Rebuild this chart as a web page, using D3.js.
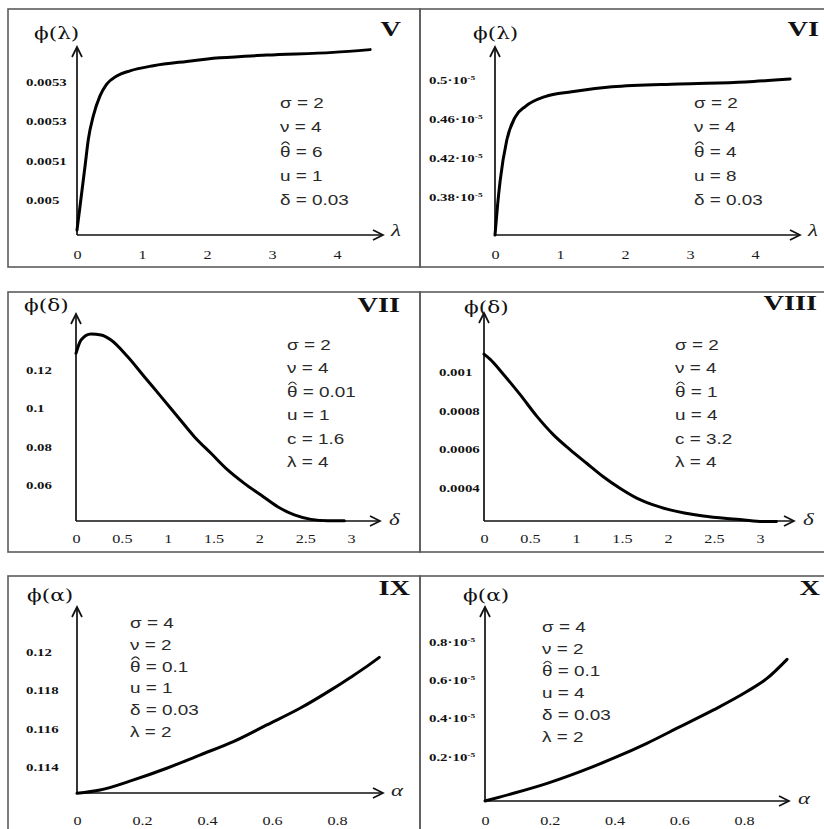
<!DOCTYPE html>
<html>
<head>
<meta charset="utf-8">
<script src="https://cdn.jsdelivr.net/npm/d3@7"></script>
<style>
  body { margin: 0; background: #fff; }
  svg { display: block; }
</style>
</head>
<body>
<svg id="chart" width="824" height="829"></svg>
<script>
// ---- data ----
// V : phi(lambda)
var lamV = [0, 0.046, 0.123, 0.174, 0.251, 0.354, 0.457, 0.611, 0.815, 1.174, 1.688, 2.2, 2.92, 3.94, 4.51];
var phiV = [0.004923, 0.004983, 0.005085, 0.005154, 0.005214, 0.005265, 0.005295, 0.005316, 0.005329, 0.005342, 0.005353, 0.005362, 0.005369, 0.005376, 0.005383];
// VI : phi(lambda), in units of 10^-5
var lamVI = [0, 0.04, 0.08, 0.18, 0.31, 0.47, 0.77, 1.18, 1.8, 2.83, 3.85, 4.54];
var phiVI = [0.341, 0.372, 0.397, 0.438, 0.462, 0.473, 0.483, 0.488, 0.493, 0.496, 0.498, 0.501];
// VII : phi(delta)
var delVII = [0, 0.055, 0.164, 0.273, 0.382, 0.564, 0.745, 0.927, 1.109, 1.29, 1.472, 1.654, 1.835, 2.017, 2.199, 2.381, 2.563, 2.745, 2.926];
var phiVII = [0.1287, 0.1357, 0.1388, 0.1383, 0.1357, 0.1269, 0.1165, 0.1061, 0.0956, 0.0852, 0.0765, 0.0678, 0.0608, 0.0547, 0.0486, 0.0443, 0.0420, 0.0413, 0.0413];
// VIII : phi(delta)
var delVIII = [0, 0.065, 0.21, 0.391, 0.573, 0.753, 0.935, 1.116, 1.297, 1.478, 1.66, 1.84, 2.022, 2.384, 2.747, 3.0, 3.18];
var phiVIII = [0.001094, 0.001068, 0.00099, 0.000885, 0.000772, 0.000676, 0.000598, 0.000527, 0.000457, 0.000397, 0.000346, 0.000311, 0.000285, 0.000253, 0.000236, 0.000225, 0.000224];
// IX : phi(alpha)
var alpIX = [0, 0.071, 0.174, 0.276, 0.378, 0.481, 0.584, 0.686, 0.789, 0.84, 0.892, 0.93];
var phiIX = [0.11262, 0.11279, 0.11332, 0.11393, 0.11462, 0.11532, 0.11619, 0.11706, 0.1181, 0.11866, 0.11925, 0.11972];
// X : phi(alpha), in units of 10^-5
var alpX = [0, 0.088, 0.192, 0.294, 0.397, 0.5, 0.603, 0.706, 0.809, 0.87, 0.933];
var phiX = [-0.031, 0.009, 0.061, 0.122, 0.192, 0.27, 0.357, 0.444, 0.54, 0.607, 0.708];

// tick values and labels
var ticksLam = [0, 1, 2, 3, 4];
var ticksDel = [0, 0.5, 1, 1.5, 2, 2.5, 3];
var ticksAlp = [0, 0.2, 0.4, 0.6, 0.8];
var yTicksV = [0.005, 0.0051, 0.0052, 0.0053];
var yLabelsV = ["0.005", "0.0051", "0.0053", "0.0053"];
var yTicksVI = [0.38, 0.42, 0.46, 0.5];
var yLabelsVI = ["0.38", "0.42", "0.46", "0.5"];
var yTicksVII = [0.06, 0.08, 0.1, 0.12];
var yLabelsVII = ["0.06", "0.08", "0.1", "0.12"];
var yTicksVIII = [0.0004, 0.0006, 0.0008, 0.001];
var yLabelsVIII = ["0.0004", "0.0006", "0.0008", "0.001"];
var yTicksIX = [0.114, 0.116, 0.118, 0.12];
var yLabelsIX = ["0.114", "0.116", "0.118", "0.12"];
var yTicksX = [0.2, 0.4, 0.6, 0.8];
var yLabelsX = ["0.2", "0.4", "0.6", "0.8"];

// parameter boxes (the theta line gets a hat drawn over it)
var paramsV = ["σ = 2", "ν = 4", "θ = 6", "u = 1", "δ = 0.03"];
var paramsVI = ["σ = 2", "ν = 4", "θ = 4", "u = 8", "δ = 0.03"];
var paramsVII = ["σ = 2", "ν = 4", "θ = 0.01", "u = 1", "c = 1.6", "λ = 4"];
var paramsVIII = ["σ = 2", "ν = 4", "θ = 1", "u = 4", "c = 3.2", "λ = 4"];
var paramsIX = ["σ = 4", "ν = 2", "θ = 0.1", "u = 1", "δ = 0.03", "λ = 2"];
var paramsX = ["σ = 4", "ν = 2", "θ = 0.1", "u = 4", "δ = 0.03", "λ = 2"];

var svg = d3.select("#chart");
var SX = 1.35;  // the source picture is stretched sideways
var SERIF = "'Liberation Serif', 'DejaVu Serif', serif";
var SANS = "'Liberation Sans', Arial, sans-serif";

var panels = [
  { title: "V", xs: lamV, ys: phiV, frame: [8, 9, 420, 267],
    axisX: 77, axisY: 235, xTip: 383, yTop: 47,
    xDomain: [0, 4.708], yDomain: [0.0049103, 0.0053897],
    xTicks: ticksLam, yTicks: yTicksV, yLabels: yLabelsV, exp: false,
    yLabelX: 26, xLabelY: 255, titleX: 401, titleY: 29,
    name: "ϕ(λ)", nameX: 34, nameY: 33, arg: "λ", argX: 391, argY: 231,
    params: paramsV, parX: 280, parY: 103, parStep: 24.3 },
  { title: "VI", xs: lamVI, ys: phiVI, frame: [420, 9, 830, 267],
    axisX: 495, axisY: 235, xTip: 800, yTop: 47,
    xDomain: [0, 4.692], yDomain: [0.34103, 0.53385],
    xTicks: ticksLam, yTicks: yTicksVI, yLabels: yLabelsVI, exp: true,
    yLabelX: 429, xLabelY: 255, titleX: 819, titleY: 29,
    name: "ϕ(λ)", nameX: 473, nameY: 33, arg: "λ", argX: 808, argY: 231,
    params: paramsVI, parX: 694, parY: 103, parStep: 24.3 },
  { title: "VII", xs: delVII, ys: phiVII, frame: [8, 292, 420, 552],
    axisX: 76, axisY: 521, xTip: 380, yTop: 314,
    xDomain: [0, 3.315], yDomain: [0.04115, 0.14924],
    xTicks: ticksDel, yTicks: yTicksVII, yLabels: yLabelsVII, exp: false,
    yLabelX: 26, xLabelY: 539, titleX: 400, titleY: 305,
    name: "ϕ(δ)", nameX: 24, nameY: 305, arg: "δ", argX: 389, argY: 520,
    params: paramsVII, parX: 287, parY: 345, parStep: 23.4 },
  { title: "VIII", xs: delVIII, ys: phiVIII, frame: [420, 292, 830, 552],
    axisX: 484, axisY: 521, xTip: 794, yTop: 313,
    xDomain: [0, 3.37], yDomain: [0.000227, 0.001308],
    xTicks: ticksDel, yTicks: yTicksVIII, yLabels: yLabelsVIII, exp: false,
    yLabelX: 439, xLabelY: 539, titleX: 817, titleY: 303,
    name: "ϕ(δ)", nameX: 464, nameY: 307, arg: "δ", argX: 803, argY: 520,
    params: paramsVIII, parX: 675, parY: 345, parStep: 23.4 },
  { title: "IX", xs: alpIX, ys: phiIX, frame: [8, 576, 420, 840],
    axisX: 77, axisY: 793, xTip: 383, yTop: 607,
    xDomain: [0, 0.9415], yDomain: [0.112637, 0.12235],
    xTicks: ticksAlp, yTicks: yTicksIX, yLabels: yLabelsIX, exp: false,
    yLabelX: 26, xLabelY: 821, titleX: 410, titleY: 588,
    name: "ϕ(α)", nameX: 27, nameY: 595, arg: "α", argX: 391, argY: 791,
    params: paramsIX, parX: 130, parY: 623, parStep: 21.8 },
  { title: "X", xs: alpX, ys: phiX, frame: [420, 576, 830, 840],
    axisX: 485, axisY: 801, xTip: 789, yTop: 607,
    xDomain: [0, 0.939], yDomain: [-0.0312, 0.981],
    xTicks: ticksAlp, yTicks: yTicksX, yLabels: yLabelsX, exp: true,
    yLabelX: 429, xLabelY: 821, titleX: 820, titleY: 588,
    name: "ϕ(α)", nameX: 463, nameY: 595, arg: "α", argX: 798, argY: 799,
    params: paramsX, parX: 542, parY: 627, parStep: 22 }
];

function stretched(sel, x, y, txt) {
  return sel.append("text")
    .attr("transform", "translate(" + x + "," + y + ") scale(" + SX + ",1)")
    .text(txt);
}

panels.forEach(function(p) {
  var g = svg.append("g");

  g.append("rect")
    .attr("x", p.frame[0]).attr("y", p.frame[1])
    .attr("width", p.frame[2] - p.frame[0]).attr("height", p.frame[3] - p.frame[1])
    .attr("fill", "none").attr("stroke", "#5c5c5c").attr("stroke-width", 1.6);

  var x = d3.scaleLinear().domain(p.xDomain).range([p.axisX, p.xTip]);
  var y = d3.scaleLinear().domain(p.yDomain).range([p.axisY, p.yTop]);

  // axis lines with open arrow heads
  g.append("line").attr("x1", x(p.xDomain[0])).attr("y1", p.axisY)
    .attr("x2", x(p.xDomain[1])).attr("y2", p.axisY)
    .attr("stroke", "#111").attr("stroke-width", 1.7);
  g.append("line").attr("x1", p.axisX).attr("y1", y(p.yDomain[0]))
    .attr("x2", p.axisX).attr("y2", y(p.yDomain[1]))
    .attr("stroke", "#111").attr("stroke-width", 1.7);
  var tx = x(p.xDomain[1]), ty = y(p.yDomain[1]);
  g.append("path")
    .attr("d", "M" + (tx - 10) + "," + (p.axisY - 5) + "L" + tx + "," + p.axisY + "L" + (tx - 10) + "," + (p.axisY + 5))
    .attr("fill", "none").attr("stroke", "#111").attr("stroke-width", 1.7);
  g.append("path")
    .attr("d", "M" + (p.axisX - 5) + "," + (ty + 10) + "L" + p.axisX + "," + ty + "L" + (p.axisX + 5) + "," + (ty + 10))
    .attr("fill", "none").attr("stroke", "#111").attr("stroke-width", 1.7);

  // x ticks
  var xa = g.append("g").attr("transform", "translate(0," + p.axisY + ")")
    .call(d3.axisBottom(x).tickValues(p.xTicks).tickSize(0).tickFormat(d3.format("")));
  xa.select(".domain").remove();
  xa.attr("font-family", SERIF).attr("font-size", 12);
  xa.selectAll(".tick text")
    .attr("fill", "#1a1a1a")
    .attr("y", p.xLabelY - p.axisY).attr("dy", "0.35em")
    .attr("transform", "scale(" + SX + ",1)");

  // y ticks, labels left aligned at a fixed x
  var ya = g.append("g").attr("transform", "translate(" + p.axisX + ",0)")
    .call(d3.axisLeft(y).tickValues(p.yTicks).tickSize(0)
      .tickFormat(function(d, i) { return p.yLabels[i]; }));
  ya.select(".domain").remove();
  ya.attr("font-family", SERIF).attr("font-size", 11).attr("font-weight", "bold");
  ya.selectAll(".tick text")
    .attr("fill", "#111")
    .attr("text-anchor", "start").attr("x", 0).attr("dy", "0.32em")
    .attr("transform", "translate(" + (p.yLabelX - p.axisX) + ",0) scale(" + SX + ",1)")
    .each(function() {
      if (!p.exp) return;
      var t = d3.select(this);
      t.append("tspan").text("·10");
      t.append("tspan").attr("font-size", 7).attr("dy", "-0.6em").text("-5");
    });

  // curve
  var line = d3.line()
    .x(function(d) { return x(d[0]); })
    .y(function(d) { return y(d[1]); })
    .curve(d3.curveMonotoneX);
  g.append("path")
    .datum(d3.zip(p.xs, p.ys))
    .attr("d", line)
    .attr("fill", "none").attr("stroke", "#000").attr("stroke-width", 3)
    .attr("stroke-linecap", "round").attr("stroke-linejoin", "round");

  // titles and names
  stretched(g, p.titleX, p.titleY, p.title)
    .attr("font-family", SERIF).attr("font-weight", "bold").attr("font-size", 21)
    .attr("text-anchor", "end").attr("dy", "0.35em").attr("fill", "#111");
  stretched(g, p.nameX, p.nameY, p.name)
    .attr("font-family", "'DejaVu Serif', serif").attr("font-size", 16)
    .attr("dy", "0.35em").attr("fill", "#111");
  stretched(g, p.argX, p.argY, p.arg)
    .attr("font-family", SERIF).attr("font-style", "italic").attr("font-size", 17)
    .attr("dy", "0.3em").attr("fill", "#222");

  // parameter list
  p.params.forEach(function(s, i) {
    var yy = p.parY + i * p.parStep;
    stretched(g, p.parX, yy, s)
      .attr("font-family", SANS).attr("font-size", 14)
      .attr("dy", "0.35em").attr("fill", "#2a2a2a");
    if (s.charAt(0) === "θ") {
      // hat over theta
      g.append("path")
        .attr("d", "M" + (p.parX + 1.5) + "," + (yy - 7) + "Q" + (p.parX + 5.5) + "," + (yy - 12.5) + " " + (p.parX + 9.5) + "," + (yy - 7))
        .attr("fill", "none").attr("stroke", "#2a2a2a").attr("stroke-width", 1.1);
    }
  });
});
</script>
</body>
</html>
